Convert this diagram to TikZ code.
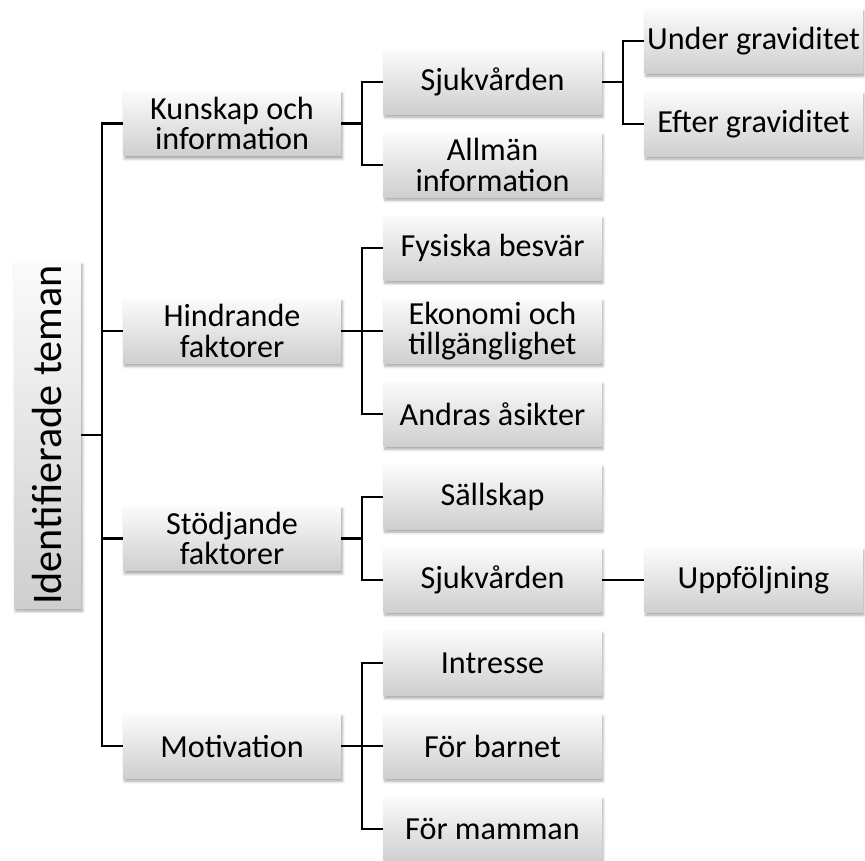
\documentclass[tikz,border=0pt]{standalone}
\usepackage{fontspec}
\setmainfont{Carlito}
\usetikzlibrary{positioning, shadows.blur}

\begin{document}
\begin{tikzpicture}[
  x=0.02cm, y=-0.02cm,
  theme/.style={rectangle, top color=gray!3, bottom color=gray!38, draw=none,
                blur shadow={shadow xshift=0.8pt, shadow yshift=-1.6pt, shadow blur radius=1.5pt, shadow opacity=35},
                minimum height=1.3cm, minimum width=4.36cm, inner sep=1pt,
                font=\fontsize{18.3}{17.5}\selectfont, align=center},
  link/.style={line width=1.3pt, black}
]
  \useasboundingbox (0,0) rectangle (865,861);

  % Root
  \node[theme, minimum width=1.34cm, minimum height=6.94cm, font=\fontsize{24}{28}\selectfont]
    (root) at (47.5,435) {\rotatebox{90}{Identifierade teman}};

  % Main themes
  \node[theme] (kun)   at (232,123.5) {Kunskap och\\information};
  \node[theme] (hind)  at (232,331)   {Hindrande\\faktorer};
  \node[theme] (stod)  at (232,538.5) {Stödjande\\faktorer};
  \node[theme] (motiv) at (232,746)   {Motivation};

  % Sub themes
  \node[theme] (sjuk1) at (492.5,82)  {Sjukvården};
  \node[theme] (allm)  at (492.5,165) {Allmän\\information};
  \node[theme] (fys)   at (492.5,248) {Fysiska besvär};
  \node[theme] (eko)   at (492.5,331) {Ekonomi och\\tillgänglighet};
  \node[theme] (andr)  at (492.5,414) {Andras åsikter};
  \node[theme] (sall)  at (492.5,497) {Sällskap};
  \node[theme] (sjuk2) at (492.5,580) {Sjukvården};
  \node[theme] (intr)  at (492.5,663) {Intresse};
  \node[theme] (barn)  at (492.5,746) {För barnet};
  \node[theme] (mamm)  at (492.5,829) {För mamman};

  % Third level
  \node[theme] (under) at (753.5,41)  {Under graviditet};
  \node[theme] (efter) at (753.5,124) {Efter graviditet};
  \node[theme] (uppf)  at (753.5,580) {Uppföljning};

  % Connectors
  \foreach \p/\c in {root/kun, root/hind, root/stod, root/motiv,
                     kun/sjuk1, kun/allm, hind/fys, hind/eko, hind/andr,
                     stod/sall, stod/sjuk2, motiv/intr, motiv/barn, motiv/mamm,
                     sjuk1/under, sjuk1/efter}
    \draw[link] (\p.east) -- ++(21,0) |- (\c.west);
  \draw[link] (sjuk2) -- (uppf);
\end{tikzpicture}
\end{document}
